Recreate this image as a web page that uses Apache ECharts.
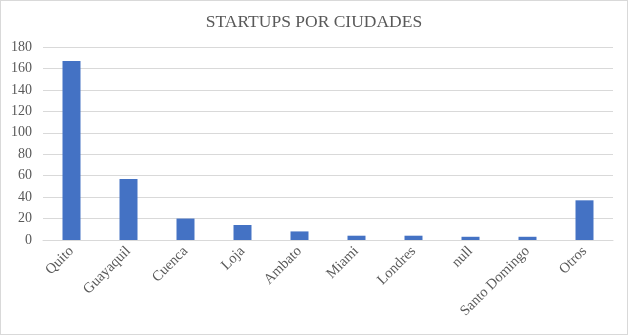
<!DOCTYPE html>
<html><head><meta charset="utf-8">
<script src="https://cdn.jsdelivr.net/npm/echarts@6/dist/echarts.min.js"></script>
<style>html,body{margin:0;padding:0;background:#fff}#c{width:626px;height:333px;border:1px solid #d9d9d9}</style>
</head><body><div id="c"></div>
<script>
const categories = ['Quito','Guayaquil','Cuenca','Loja','Ambato','Miami','Londres','null','Santo Domingo','Otros'];
const values = [167,57,20,14,8,4,4,3,3,37];
const yTicks = {min:0,max:180,interval:20};
const chart = echarts.init(document.getElementById('c'));
const font = '"Liberation Serif","Times New Roman",serif';
chart.setOption({
  animation:false,
  title:{text:'STARTUPS POR CIUDADES',left:'center',top:7,textStyle:{fontFamily:font,fontSize:17.5,fontWeight:'normal',color:'#595959'}},
  grid:{left:42,right:14,top:46,bottom:94},
  xAxis:{type:'category',data:categories,
    axisLine:{lineStyle:{color:'#d9d9d9'}},axisTick:{show:false},
    axisLabel:{rotate:45,interval:0,margin:9,fontFamily:font,fontSize:14.5,color:'#595959'}},
  yAxis:{type:'value',min:yTicks.min,max:yTicks.max,interval:yTicks.interval,
    axisLine:{show:false},axisTick:{show:false},
    splitLine:{lineStyle:{color:'#d9d9d9'}},
    axisLabel:{margin:11,fontFamily:font,fontSize:14,color:'#595959'}},
  series:[{type:'bar',data:values,barWidth:18,itemStyle:{color:'#4472c4'}}]
});
</script></body></html>
